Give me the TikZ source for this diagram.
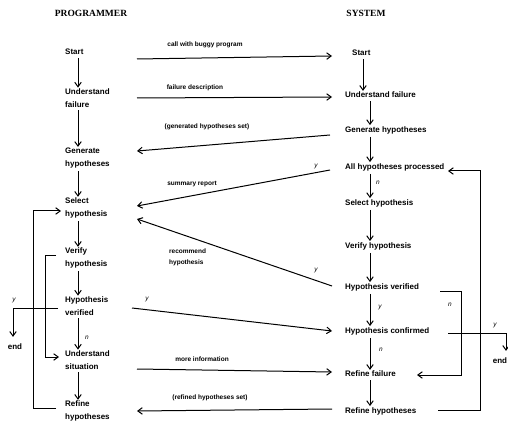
\documentclass[tikz,border=0pt]{standalone}
\usepackage{fontspec}
\setmainfont{Liberation Serif}
\setsansfont{Liberation Sans}
\usetikzlibrary{arrows.meta,calc}
\newcommand\ndfont{\sffamily\bfseries\fontsize{8}{12.5}\selectfont}
\newcommand\lbfont{\sffamily\bfseries\fontsize{6.5}{11}\selectfont}
\newcommand\ynfont{\sffamily\itshape\fontsize{6.5}{8}\selectfont}
\newcommand\hdfont{\rmfamily\bfseries\fontsize{9.5}{11}\selectfont}
\begin{document}
\begin{tikzpicture}[x=1pt,y=-1pt,
  lnode/.style={anchor=west, align=left, inner sep=1pt, font=\ndfont},
  rnode/.style={anchor=west, inner sep=1pt, font=\ndfont},
  arr/.style={-{Straight Barb[length=4.5pt,width=6.5pt]}, line width=1pt},
  lbl/.style={font=\lbfont, inner sep=0pt},
  yn/.style={font=\ynfont, inner sep=0pt},
  hdr/.style={font=\hdfont, inner sep=0pt},
  endn/.style={font=\ndfont, inner sep=0pt}]
\useasboundingbox (0,0) rectangle (508,427);

% headers
\node[hdr] (hp) at (91,13) {PROGRAMMER};
\node[hdr] (hs) at (366,13) {SYSTEM};

% column coordinates
\coordinate (Lx) at (137,0);
\coordinate (Rx) at (332,0);
\coordinate (colL) at (78,0);
\coordinate (colR) at (370,0);
\coordinate (colR0) at (363,0);
\coordinate (oL) at (33,0);
\coordinate (iL) at (45,0);
\coordinate (xd) at (461,0);
\coordinate (xe) at (480,0);

% programmer column
\node[lnode] (lS)   at (64,52)  {Start};
\node[lnode] (lU)   at (64,98)  {Understand\\failure};
\node[lnode] (lG)   at (64,158) {Generate\\hypotheses};
\node[lnode] (lSel) at (64,208) {Select\\hypothesis};
\node[lnode] (lV)   at (64,258) {Verify\\hypothesis};
\node[lnode] (lHV)  at (64,306) {Hypothesis\\verified};
\node[lnode] (lUS)  at (64,360) {Understand\\situation};
\node[lnode] (lR)   at (64,411) {Refine\\hypotheses};

% system column
\node[rnode] (rS)   at (351,53)  {Start};
\node[rnode] (rU)   at (344,95)  {Understand failure};
\node[rnode] (rG)   at (344,130) {Generate hypotheses};
\node[rnode] (rA)   at (344,167) {All hypotheses processed};
\node[rnode] (rSel) at (344,203) {Select hypothesis};
\node[rnode] (rV)   at (344,246) {Verify hypothesis};
\node[rnode] (rHV)  at (344,287) {Hypothesis verified};
\node[rnode] (rHC)  at (344,331) {Hypothesis confirmed};
\node[rnode] (rRF)  at (344,374) {Refine failure};
\node[rnode] (rRH)  at (344,411) {Refine hypotheses};

% end nodes
\node[endn] (endL) at (15,347) {end};
\node[endn] (endR) at (500,361) {end};

% vertical arrows
\foreach \a/\b in {lS/lU, lU/lG, lG/lSel, lSel/lV, lV/lHV, lHV/lUS, lUS/lR}
  \draw[arr, shorten <=2pt] (\a.south -| colL) -- (\b.north -| colL);
\draw[arr, shorten <=2pt] (rS.south -| colR0) -- (rU.north -| colR0);
\foreach \a/\b in {rU/rG, rG/rA, rA/rSel, rSel/rV, rV/rHV, rHV/rHC, rHC/rRF, rRF/rRH}
  \draw[arr, shorten <=2pt] (\a.south -| colR) -- (\b.north -| colR);

% horizontal connectors
\draw[arr] ($(lS.center -| Lx)+(0,7)$) -- ($(rS.center -| Rx)+(0,3)$);
\draw[arr] (lU.center -| Lx) -- ($(rU.center -| Rx)+(0,2)$);
\draw[arr] ($(rG.center -| Rx)+(-2,5)$) -- ($(lG.center -| Lx)+(0,-7)$);
\draw[arr] ($(rA.center -| Rx)+(-2,3)$) -- ($(lSel.center -| Lx)+(0,-2)$);
\draw[arr] ($(rHV.center -| Rx)+(0,-1)$) -- ($(lSel.center -| Lx)+(0,11)$);
\draw[arr] ($(lHV.center -| Lx)+(-5,2)$) -- (rHC.center -| Rx);
\draw[arr] ($(lUS.center -| Lx)+(0,9)$) -- ($(rRF.center -| Rx)+(0,-2)$);
\draw[arr] ($(rRH.center -| Rx)+(0,-2)$) -- (lR.center -| Lx);

% connector labels
\node[lbl] (t1) at (205,45) {call with buggy program};
\node[lbl] (t2) at (195,88) {failure description};
\node[lbl] (t3) at (207,127) {(generated hypotheses set)};
\node[lbl] (t4) at (192,184) {summary report};
\node[lbl, align=left, anchor=west] (t5) at (169,257) {recommend\\hypothesis};
\node[lbl] (t6) at (202,359) {more information};
\node[lbl] (t7) at (210,398) {(refined hypotheses set)};

% y / n labels
\node[yn] (y1) at (316,166) {y};
\node[yn] (y2) at (316,270) {y};
\node[yn] (y3) at (147,299) {y};
\node[yn] (n1) at (378,183) {n};
\node[yn] (y4) at (380,307) {y};
\node[yn] (n2) at (381,350) {n};
\node[yn] (n3) at (450,305) {n};
\node[yn] (y5) at (495,325) {y};
\node[yn] (y6) at (14,300) {y};
\node[yn] (n4) at (87,338) {n};

% left loops
\coordinate (a1) at ($(lR.west)+(-8,-3)$);
\coordinate (a2) at ($(lSel.west)+(-3,3)$);
\draw[arr] (a1) -- (a1 -| oL) -- (a2 -| oL) -- (a2);
\coordinate (b1) at ($(lV.west)+(-8,-2)$);
\coordinate (b2) at ($(lUS.west)+(-5,-3)$);
\draw[arr] (b1) -- (b1 -| iL) -- (b2 -| iL) -- (b2);
\coordinate (c1) at ($(lHV.west)+(-6,2)$);
\coordinate (c2) at ($(endL.north)+(-2,-7)$);
\draw[arr] (c1) -- (c1 -| c2) -- (c2);

% right loops
\coordinate (d1) at ($(rHV.west)+(96,5)$);
\coordinate (d2) at ($(rRF.west)+(73,1)$);
\draw[arr] (d1) -- (d1 -| xd) -- (d2 -| xd) -- (d2);
\coordinate (e1) at ($(rRH.west)+(94,-1)$);
\coordinate (e2) at ($(rA.west)+(104,4)$);
\draw[arr] (e1) -- (e1 -| xe) -- (e2 -| xe) -- (e2);
\coordinate (f1) at ($(rHC.west)+(104,2)$);
\coordinate (f2) at ($(endR.north)+(6,-7)$);
\draw[arr] (f1) -- (f1 -| f2) -- (f2);
\end{tikzpicture}
\end{document}
